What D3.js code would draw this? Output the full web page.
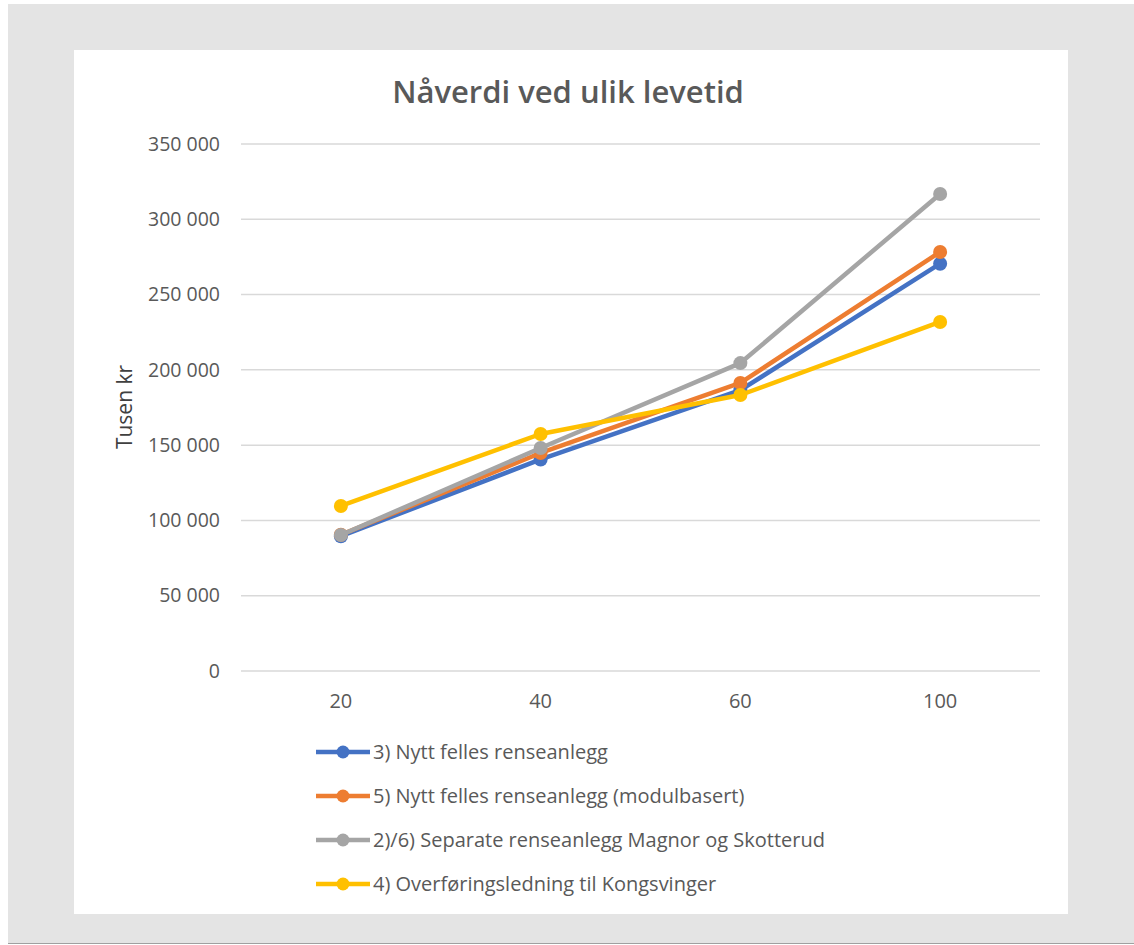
<!DOCTYPE html>
<html>
<head>
<meta charset="utf-8">
<script src="https://d3js.org/d3.v7.min.js"></script>
<style>
  body { margin: 0; background: #fff; font-family: "Open Sans", sans-serif; }
</style>
</head>
<body>
<script>
// data
var categories = ["20", "40", "60", "100"];
var seriesNames = [
  "3) Nytt felles renseanlegg",
  "5) Nytt felles renseanlegg (modulbasert)",
  "2)/6) Separate renseanlegg Magnor og Skotterud",
  "4) Overføringsledning til Kongsvinger"
];
var blueVals   = [89500, 140500, 186500, 270500];
var orangeVals = [90500, 144800, 191300, 278300];
var grayVals   = [90300, 148100, 204500, 316800];
var yellowVals = [109600, 157400, 183300, 231800];
var yTicks = [0, 50000, 100000, 150000, 200000, 250000, 300000, 350000];
var colors = ["#4472c4", "#ed7d31", "#a5a5a5", "#ffc000"];

var series = [blueVals, orangeVals, grayVals, yellowVals];

var W = 1134, H = 945;
var svg = d3.select("body").append("svg").attr("width", W).attr("height", H)
  .style("font-family", "'Open Sans', sans-serif");

// outer frame
svg.append("rect").attr("x", 8).attr("y", 4).attr("width", W - 8).attr("height", 940).attr("fill", "#e4e4e4");
svg.append("line").attr("x1", 8).attr("x2", W).attr("y1", 943.5).attr("y2", 943.5).attr("stroke", "#a0a0a0").attr("stroke-width", 1);
svg.append("rect").attr("x", 74).attr("y", 50).attr("width", 994).attr("height", 864).attr("fill", "#fff");

var x = d3.scaleBand().domain(categories).range([241, 1040]);
var y = d3.scaleLinear().domain([0, 350000]).range([671, 144]);
var fmt = function(v) { return d3.format(",")(v).replace(/,/g, " "); };

// gridlines
svg.append("g").selectAll("line").data(yTicks).join("line")
  .attr("x1", 241).attr("x2", 1040)
  .attr("y1", d => y(d)).attr("y2", d => y(d))
  .attr("stroke", "#d9d9d9").attr("stroke-width", 1.5);

// y axis labels
var yAxis = svg.append("g").attr("transform", "translate(228,0)")
  .call(d3.axisLeft(y).tickValues(yTicks).tickFormat(fmt).tickSize(0).tickPadding(8));
yAxis.select(".domain").remove();
yAxis.selectAll("text").attr("font-family", "'Open Sans', sans-serif").attr("font-size", 19.5).attr("fill", "#595959");

// x axis labels
var xAxis = svg.append("g").attr("transform", "translate(0,686)")
  .call(d3.axisBottom(x).tickSize(0));
xAxis.select(".domain").remove();
xAxis.selectAll("text").attr("dy", null).attr("y", 22)
  .attr("font-family", "'Open Sans', sans-serif").attr("font-size", 20).attr("fill", "#595959");

// title
svg.append("text").attr("x", 568).attr("y", 103).attr("text-anchor", "middle")
  .attr("font-size", 31).attr("font-weight", 600).attr("fill", "#595959")
  .text("Nåverdi ved ulik levetid");

// y axis title
svg.append("text").attr("transform", "translate(132,407) rotate(-90)").attr("text-anchor", "middle")
  .attr("font-size", 21).attr("fill", "#404040").text("Tusen kr");

var line = d3.line().x((d, i) => x(categories[i]) + x.bandwidth() / 2).y(d => y(d));

series.forEach(function(vals, s) {
  var g = svg.append("g");
  g.append("path").datum(vals).attr("d", line)
    .attr("fill", "none").attr("stroke", colors[s]).attr("stroke-width", 4.5).attr("stroke-linejoin", "round");
  g.selectAll("circle").data(vals).join("circle")
    .attr("cx", (d, i) => x(categories[i]) + x.bandwidth() / 2)
    .attr("cy", d => y(d)).attr("r", 7).attr("fill", colors[s]);
});

// legend
var legend = svg.append("g");
seriesNames.forEach(function(name, s) {
  var ly = 752 + s * 44;
  legend.append("line").attr("x1", 316).attr("x2", 370).attr("y1", ly).attr("y2", ly)
    .attr("stroke", colors[s]).attr("stroke-width", 4.5);
  legend.append("circle").attr("cx", 343).attr("cy", ly).attr("r", 6.5).attr("fill", colors[s]);
  legend.append("text").attr("x", 373).attr("y", ly + 7).attr("font-size", 20).attr("fill", "#595959").text(name);
});
</script>
</body>
</html>
